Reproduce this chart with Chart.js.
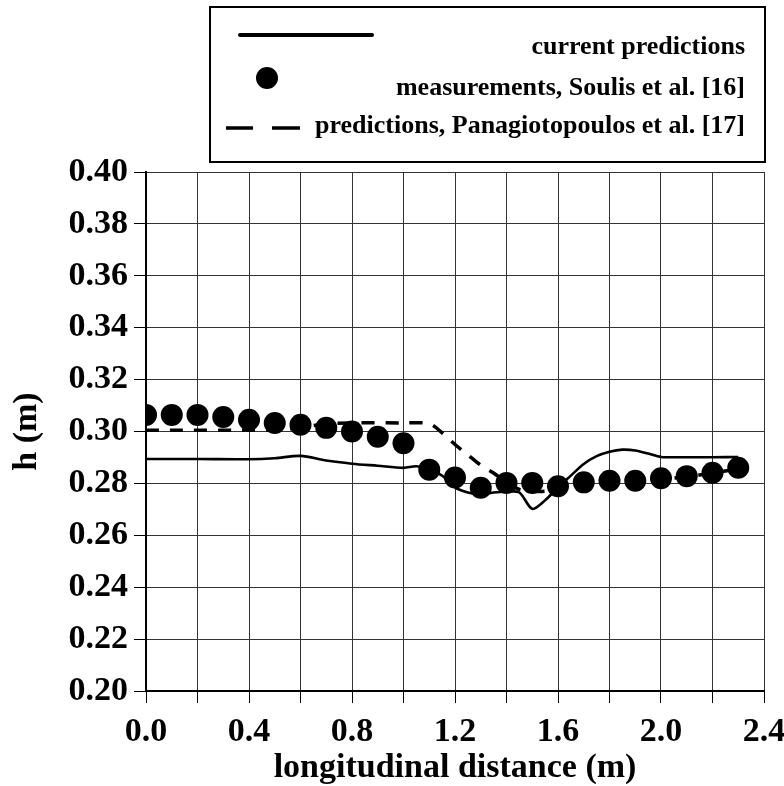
<!DOCTYPE html>
<html>
<head>
<meta charset="utf-8">
<script src="https://cdn.jsdelivr.net/npm/chart.js@4.4.1/dist/chart.umd.min.js"></script>
<style>
  html, body { margin: 0; padding: 0; background: #fff; }
</style>
</head>
<body>
<canvas id="chart" width="784" height="786"></canvas>
<script>
// series labels, as in the boxed legend
const seriesNames = [
  'current predictions',
  'measurements, Soulis et al. [16]',
  'predictions, Panagiotopoulos et al. [17]'
];

// current predictions (solid line)
const curX = [0.0, 0.2, 0.4, 0.5, 0.6, 0.7, 0.8, 0.9, 1.0, 1.05, 1.1, 1.15, 1.2, 1.25, 1.3, 1.35,
  1.4, 1.45, 1.5, 1.55, 1.6, 1.65, 1.7, 1.75, 1.8, 1.85, 1.9, 1.95, 2.0, 2.1, 2.2, 2.3];
const curH = [0.2894, 0.2894, 0.2893, 0.2897, 0.2906, 0.2888, 0.2876, 0.2868, 0.2860, 0.2866, 0.2855, 0.2830,
  0.2785, 0.2765, 0.2757, 0.2765, 0.2768, 0.2765, 0.2702, 0.2735, 0.2785, 0.2830, 0.2875, 0.2905,
  0.2922, 0.2930, 0.2927, 0.2915, 0.2902, 0.2901, 0.2901, 0.2902];

// measurements (dots)
const measX = [0.0, 0.1, 0.2, 0.3, 0.4, 0.5, 0.6, 0.7, 0.8, 0.9, 1.0, 1.1, 1.2, 1.3, 1.4, 1.5,
  1.6, 1.7, 1.8, 1.9, 2.0, 2.1, 2.2, 2.3];
const measH = [0.3064, 0.3064, 0.3064, 0.3056, 0.3045, 0.3033, 0.3026, 0.3014, 0.3000, 0.2980, 0.2955, 0.2853,
  0.2823, 0.2783, 0.2802, 0.2802, 0.2789, 0.2804, 0.2810, 0.2810, 0.2820, 0.2828, 0.2841, 0.2860];

// Panagiotopoulos predictions (dashed line)
const panX = [0.0, 0.5, 0.6, 0.7, 0.8, 1.0, 1.1, 1.15, 1.2, 1.25, 1.3, 1.35, 1.4, 1.45, 1.5, 1.55,
  1.6, 1.7, 1.8, 1.9, 2.0, 2.1, 2.2, 2.3];
const panH = [0.3005, 0.3006, 0.3015, 0.3030, 0.3033, 0.3033, 0.3030, 0.2995, 0.2950, 0.2910, 0.2870, 0.2840,
  0.2803, 0.2777, 0.2770, 0.2770, 0.2778, 0.2800, 0.2808, 0.2810, 0.2816, 0.2826, 0.2840, 0.2856];

const toPoints = (xs, ys) => xs.map((x, i) => ({ x, y: ys[i] }));

const serif = '"Liberation Serif", "Times New Roman", serif';

// boxed legend in the top right, drawn after the chart
const boxLegend = {
  id: 'boxLegend',
  afterDraw(chart) {
    const ctx = chart.ctx;
    ctx.save();
    ctx.strokeStyle = '#000';
    ctx.fillStyle = '#000';
    ctx.lineWidth = 2;
    ctx.strokeRect(210, 7, 555, 155);

    ctx.font = 'bold 26px ' + serif;
    ctx.textAlign = 'right';
    ctx.textBaseline = 'middle';
    const rows = [47, 88, 126];
    chart.data.datasets.forEach((ds, i) => {
      ctx.fillText(ds.label, 745, rows[i]);
    });

    // solid sample
    ctx.lineWidth = 4;
    ctx.lineCap = 'round';
    ctx.beginPath();
    ctx.moveTo(240, 35);
    ctx.lineTo(372, 35);
    ctx.stroke();
    // dot sample
    ctx.beginPath();
    ctx.arc(267, 78, 11, 0, Math.PI * 2);
    ctx.fill();
    // dashed sample
    ctx.lineCap = 'butt';
    ctx.lineWidth = 3.5;
    ctx.beginPath();
    ctx.moveTo(226, 128); ctx.lineTo(253, 128);
    ctx.moveTo(272, 128); ctx.lineTo(300, 128);
    ctx.stroke();
    ctx.restore();
  }
};

new Chart(document.getElementById('chart'), {
  type: 'line',
  data: {
    datasets: [
      {
        label: seriesNames[0],
        data: toPoints(curX, curH),
        borderColor: '#000',
        borderWidth: 2.6,
        pointRadius: 0,
        tension: 0.3,
        order: 2
      },
      {
        label: seriesNames[1],
        data: toPoints(measX, measH),
        showLine: false,
        backgroundColor: '#000',
        borderColor: '#000',
        pointRadius: 11,
        pointBorderWidth: 0,
        order: 0
      },
      {
        label: seriesNames[2],
        data: toPoints(panX, panH),
        borderColor: '#000',
        borderWidth: 3.5,
        borderDash: [13, 11],
        pointRadius: 0,
        tension: 0.3,
        order: 1
      }
    ]
  },
  options: {
    responsive: false,
    animation: false,
    layout: { padding: { top: 172, right: 20, left: 0, bottom: 0 } },
    plugins: {
      legend: { display: false },
      tooltip: { enabled: false }
    },
    scales: {
      x: {
        type: 'linear',
        min: 0,
        max: 2.4,
        afterFit(scale) {
          scale.height = 95;
          scale.paddingLeft = 0;
          scale.paddingRight = 0;
        },
        ticks: {
          stepSize: 0.2,
          color: '#000',
          padding: 9,
          maxRotation: 0,
          autoSkip: false,
          font: { family: serif, size: 34, weight: 'bold' },
          callback: (v) => {
            const r = Math.round(v * 10);
            return r % 4 === 0 ? (r / 10).toFixed(1) : '';
          }
        },
        grid: { color: '#333', lineWidth: 1, tickLength: 12, tickColor: '#000' },
        border: { color: '#000', width: 2 },
        title: {
          display: true,
          text: 'longitudinal distance (m)',
          color: '#000',
          padding: { top: 0, bottom: -3 },
          font: { family: serif, size: 34, weight: 'bold' }
        }
      },
      y: {
        min: 0.2,
        max: 0.4,
        afterFit(scale) {
          scale.width = 146;
        },
        ticks: {
          stepSize: 0.02,
          color: '#000',
          padding: 6,
          font: { family: serif, size: 34, weight: 'bold' },
          callback: (v) => v.toFixed(2)
        },
        grid: { color: '#333', lineWidth: 1, tickLength: 12, tickColor: '#000' },
        border: { color: '#000', width: 2 },
        title: {
          display: true,
          text: 'h (m)',
          color: '#000',
          padding: { top: 7, bottom: 4 },
          font: { family: serif, size: 34, weight: 'bold' }
        }
      }
    }
  },
  plugins: [boxLegend]
});
</script>
</body>
</html>
